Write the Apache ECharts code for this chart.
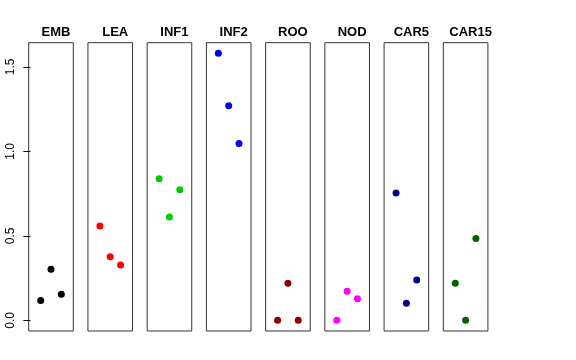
<!DOCTYPE html>
<html><head><meta charset="utf-8">
<script src="https://cdn.jsdelivr.net/npm/echarts@6/dist/echarts.min.js"></script>
<style>html,body{margin:0;padding:0;background:#fff}#c{width:576px;height:360px}</style>
</head><body><div id="c"></div>
<script>
const categories = ["EMB","LEA","INF1","INF2","ROO","NOD","CAR5","CAR15"];
const colors = ["#000000","#FF0000","#00CD00","#0000FF","#8B0000","#FF00FF","#00008B","#006400"];
const EMB = [0.117, 0.302, 0.154];
const LEA = [0.559, 0.377, 0.328];
const INF1 = [0.838, 0.612, 0.773];
const INF2 = [1.580, 1.270, 1.046];
const ROO = [0.0, 0.219, 0.0];
const NOD = [0.0, 0.172, 0.128];
const CAR5 = [0.754, 0.101, 0.239];
const CAR15 = [0.219, 0.0, 0.485];
const values = [EMB, LEA, INF1, INF2, ROO, NOD, CAR5, CAR15];
const yTicks = [0, 0.5, 1, 1.5];
const yTickLabels = ["0.0","0.5","1.0","1.5"];

(function(){
const chart = echarts.init(document.getElementById('c'), null, {renderer:'canvas'});
const left0 = 28.7, step = 59.23, pw = 44.6, ptop = 42.7, ph = 288.3;
const grid = [], xAxis = [], yAxis = [], series = [], title = [];
categories.forEach((c, i) => {
  const L = left0 + i * step;
  grid.push({left: L, top: ptop, width: pw, height: ph, show: true, borderColor: '#333', borderWidth: 1, backgroundColor: 'transparent'});
  xAxis.push({type: 'value', gridIndex: i, min: -0.16, max: 4.16, show: false});
  yAxis.push({
    type: 'value', gridIndex: i, min: -0.063, max: 1.643,
    show: i === 0,
    axisLine: {show: false},
    splitLine: {show: false},
    axisTick: {show: i === 0, length: 7, lineStyle: {color: '#000'}, customValues: yTicks},
    axisLabel: {show: i === 0, rotate: 90, margin: 12, color: '#000', fontSize: 12,
      fontFamily: 'Liberation Sans, Arial, sans-serif', customValues: yTicks,
      formatter: v => { const k = yTicks.indexOf(v); return k >= 0 ? yTickLabels[k] : ''; }}
  });
  series.push({
    type: 'scatter', xAxisIndex: i, yAxisIndex: i, symbolSize: 7,
    itemStyle: {color: colors[i], opacity: 1},
    data: values[i].map((v, k) => [k + 1, v]),
    silent: true, animation: false
  });
  title.push({text: c, left: L + pw / 2, top: 21, textAlign: 'center',
    textStyle: {fontSize: 13, fontWeight: 'bold', color: '#000', fontFamily: 'Liberation Sans, Arial, sans-serif'}});
});
chart.setOption({animation: false, backgroundColor: '#fff', title, grid, xAxis, yAxis, series});
})();
</script></body></html>
